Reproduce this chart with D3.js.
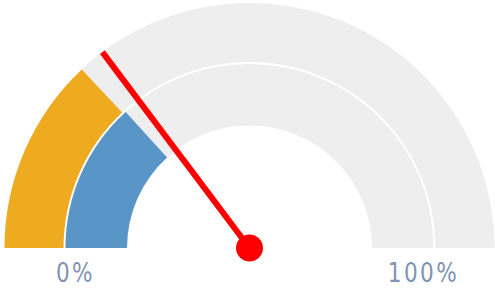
<!DOCTYPE html>
<html><head><meta charset="utf-8">
<script src="https://cdn.jsdelivr.net/npm/d3@7"></script>
<style>html,body{margin:0;padding:0;background:#fff;overflow:hidden}</style>
</head><body>
<svg id="c" width="495" height="289"></svg>
<script>
// Data
const seriesNames = ["Outer", "Inner"];
const seriesValues = [26, 26.5];      // percent
const seriesColors = ["#EEAB20", "#5A95C8"];
const needleValue = 29.5;              // percent
const tickLabels = ["0%", "100%"];
const tickValues = [0, 100];

const svg = d3.select("#c");
const cx = 249.5, cy = 248;
const rings = [{inner: 186, outer: 245}, {inner: 122.5, outer: 184}];

const angle = d3.scaleLinear().domain([0, 100]).range([-Math.PI / 2, Math.PI / 2]);

const g = svg.append("g").attr("transform", `translate(${cx},${cy})`);

// background rings
g.selectAll("path.bg").data(rings).join("path")
  .attr("class", "bg")
  .attr("fill", "#EEEEEE")
  .attr("d", r => d3.arc().innerRadius(r.inner).outerRadius(r.outer)
    .startAngle(angle(0)).endAngle(angle(100))());

// value arcs
g.selectAll("path.val").data(seriesValues).join("path")
  .attr("class", "val")
  .attr("fill", (d, i) => seriesColors[i])
  .attr("d", (d, i) => d3.arc().innerRadius(rings[i].inner).outerRadius(rings[i].outer)
    .startAngle(angle(0)).endAngle(angle(d))());

// needle
const a = angle(needleValue);
const len = 245;
g.append("line")
  .attr("x1", 0).attr("y1", 0)
  .attr("x2", len * Math.sin(a)).attr("y2", -len * Math.cos(a))
  .attr("stroke", "#FF0000").attr("stroke-width", 6);
g.append("circle").attr("r", 13.5).attr("fill", "#FF0000");

// labels
const labelR = 174;
svg.selectAll("text.lbl").data(tickLabels).join("text")
  .attr("class", "lbl")
  .attr("transform", (d, i) => {
    const x = cx + labelR * Math.sin(angle(tickValues[i]));
    return `translate(${x},282) scale(0.8,1)`;
  })
  .attr("text-anchor", "middle")
  .attr("font-family", "DejaVu Sans")
  .attr("font-size", 27)
  .attr("letter-spacing", 3)
  .attr("fill", "#7F93B3")
  .text(d => d);
</script>
</body></html>
